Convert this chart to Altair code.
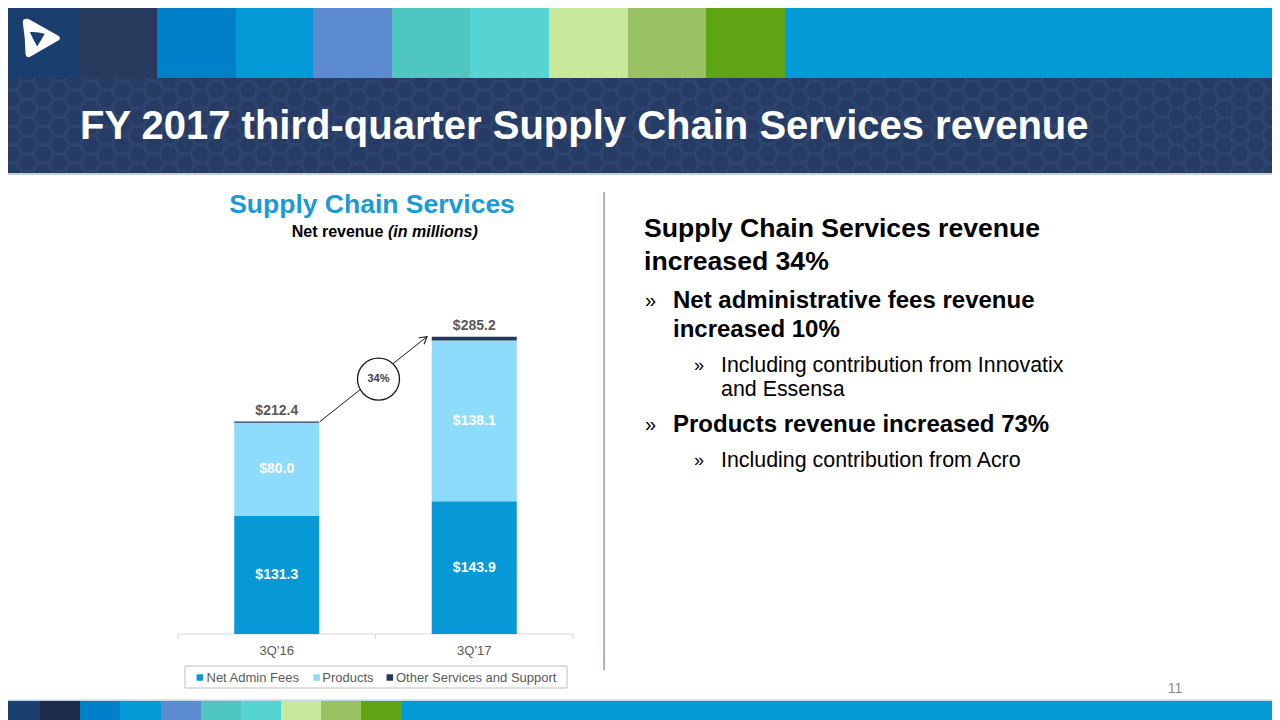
import altair as alt
import pandas as pd

# ---------------- data ----------------
quarters = ["3Q'16", "3Q'17"]
net_admin = [131.3, 143.9]
products = [80.0, 138.1]
other_services = [1.1, 3.2]
totals = [212.4, 285.2]
segments = ["Net Admin Fees", "Products", "Other Services and Support"]
segment_colors = ["#0699D6", "#8EDCFB", "#1F3864"]
growth_label = "34%"
axis_min, axis_max = 30, 300

# slide palette (decoration)
strip_colors = ["#1A3F6E", "#283A5E", "#0180CA", "#0699D8", "#5C8BD0", "#50C6C0",
                "#56D4D4", "#C8E89C", "#9AC264", "#5FA513", "#049AD6"]
bottom_colors = ["#1A3F6E", "#1E2B4A", "#0180CA", "#0699D8", "#5C8BD0", "#50C6C0",
                 "#56D4D4", "#C8E89C", "#9AC264", "#5FA513", "#049AD6"]
top_edges = [0, 79, 157, 236, 313, 392, 470, 549, 628, 706, 785, 1280]
bottom_edges = [0, 40, 80, 120, 161, 201, 241, 281, 321, 361, 402, 1280]

FONT = "Liberation Sans"
OX, OY = 8, 8          # page margin: slide pixel -> chart pixel
W, H = 1264, 712


def px(v):
    return v - OX


def py(v):
    return v - OY


XN = dict(scale=None, axis=None)


def rect_layer(items):
    df = pd.DataFrame([dict(x=px(a), x2=px(b), y=py(c), y2=py(d), c=col) for a, b, c, d, col in items])
    return alt.Chart(df).mark_rect().encode(
        x=alt.X("x:Q", **XN), x2="x2:Q", y=alt.Y("y:Q", **XN), y2="y2:Q",
        color=alt.Color("c:N", scale=None))


# ---------------- decoration ----------------
band = rect_layer([(0, 1280, 78, 173, "#273C64")])

# honeycomb texture in the title band (pure decoration)
HEX = "M -1 0 L -0.5 -0.866 L 0.5 -0.866 L 1 0 L 0.5 0.866 L -0.5 0.866 Z"
hex_pts = []
r = 10.5
col = 0
cx = -4.0
while cx < 1290:
    off = 0 if col % 2 == 0 else r * 0.866
    cy = 78 + off - 6
    while cy < 178:
        hex_pts.append(dict(x=px(cx), y=py(cy)))
        cy += 2 * r * 0.866
    cx += 1.5 * r
    col += 1
hexes = alt.Chart(pd.DataFrame(hex_pts)).mark_point(
    shape=HEX, size=(2 * r - 2) ** 2, filled=False, color="#3A5283", strokeWidth=1.2, opacity=0.55
).encode(x=alt.X("x:Q", **XN), y=alt.Y("y:Q", **XN))

rest = [(top_edges[i], top_edges[i + 1], 0, 78, c) for i, c in enumerate(strip_colors)]
rest += [(0, 1280, 173, 175, "#C9CFD8"), (0, 1280, 175, 190, "#FFFFFF"),
         (0, 1280, 699.5, 701, "#BFD8E8")]
rest += [(bottom_edges[i], bottom_edges[i + 1], 701, 720, c) for i, c in enumerate(bottom_colors)]
rest += [(603.3, 604.8, 192, 670, "#8C9BB2"),               # divider
         (178, 573.5, 633.5, 634.5, "#D9D9D9")]               # category axis line
rest += [(tx - 0.5, tx + 0.5, 634, 639, "#D9D9D9") for tx in [178, 375.5, 573]]
deco = rect_layer(rest)

# legend box
legend_box = alt.Chart(pd.DataFrame([dict(x=px(185), x2=px(567), y=py(666), y2=py(688))])).mark_rect(
    fill="white", stroke="#BFBFBF", strokeWidth=1
).encode(x=alt.X("x:Q", **XN), x2="x2:Q", y=alt.Y("y:Q", **XN), y2="y2:Q")

# logo
LOGO_OUT = ("M -0.78 -0.98 Q -0.97 -0.98 -0.93 -0.76 Q -0.80 0.05 -0.80 0.78 Q -0.76 1.0 -0.55 0.90 "
            "L 0.84 0.10 Q 1.02 -0.02 0.84 -0.14 L -0.58 -0.94 Q -0.68 -0.99 -0.78 -0.98 Z")
LOGO_IN = "M -0.58 -0.32 Q -0.2 -0.34 0.16 -0.24 Q -0.02 0.1 -0.22 0.40 Q -0.42 0.05 -0.58 -0.32 Z"
logo_df = pd.DataFrame([dict(x=px(41.5), y=py(38.5))])
logo_out = alt.Chart(logo_df).mark_point(shape=LOGO_OUT, size=1600, filled=True, color="white", opacity=1).encode(
    x=alt.X("x:Q", **XN), y=alt.Y("y:Q", **XN))
logo_in = alt.Chart(logo_df).mark_point(shape=LOGO_IN, size=1600, filled=True, color="#1A3F6E", opacity=1).encode(
    x=alt.X("x:Q", **XN), y=alt.Y("y:Q", **XN))


def text_layer(items, size, color, weight="normal", align="left", baseline="alphabetic", style="normal"):
    df = pd.DataFrame([dict(x=px(a), y=py(b), t=t) for a, b, t in items])
    return alt.Chart(df).mark_text(fontSize=size, color=color, fontWeight=weight, align=align,
                                   baseline=baseline, fontStyle=style, font=FONT).encode(
        x=alt.X("x:Q", **XN), y=alt.Y("y:Q", **XN), text="t:N")


texts = [
    text_layer([(80, 139, "FY 2017 third-quarter Supply Chain Services revenue")], 40, "white", "bold"),
    text_layer([(372, 213, "Supply Chain Services")], 26.5, "#1A9AD6", "bold", align="center"),
    text_layer([(291.7, 237, "Net revenue")], 16, "#000000", "bold"),
    text_layer([(388, 237, "(in millions)")], 16, "#000000", "bold", style="italic"),
    text_layer([(644, 237, "Supply Chain Services revenue"), (644, 270, "increased 34%"),
                ], 26.6, "#000000", "bold"),
    text_layer([(673, 308, "Net administrative fees revenue"), (673, 337, "increased 10%"),
                (673, 432, "Products revenue increased 73%")], 24, "#000000", "bold"),
    text_layer([(645, 307, "»"), (645, 431, "»")], 20, "#000000"),
    text_layer([(694, 371, "»"), (694, 466, "»")], 18, "#000000"),
    text_layer([(721, 372, "Including contribution from Innovatix"), (721, 396, "and Essensa"),
                (721, 467, "Including contribution from Acro")], 21.4, "#000000"),
    text_layer([(1175, 693, "11")], 14, "#8C8C8C", align="center"),
]

# manual legend
leg_x_sq = [199.8, 316.7, 389.8]
leg_x_tx = [206.5, 322.3, 396]
leg_df = pd.DataFrame(dict(segment=segments, xs=[px(v) for v in leg_x_sq], xt=[px(v) for v in leg_x_tx],
                           y=[py(677.5)] * 3))
leg_sq = alt.Chart(leg_df).mark_point(shape="square", size=42, filled=True, opacity=1).encode(
    x=alt.X("xs:Q", **XN), y=alt.Y("y:Q", **XN),
    color=alt.Color("segment:N", scale=alt.Scale(domain=segments, range=segment_colors), legend=None))
leg_tx = alt.Chart(leg_df).mark_text(fontSize=13, color="#595959", align="left", baseline="middle", font=FONT).encode(
    x=alt.X("xt:Q", **XN), y=alt.Y("y:Q", **XN), text="segment:N")

# ---------------- bar chart ----------------
rows = []
for qi, q in enumerate(quarters):
    for si, vals in enumerate([net_admin, products, other_services]):
        rows.append(dict(quarter=q, segment=segments[si], value=vals[qi], order=si))
bar_df = pd.DataFrame(rows)

x_scale = alt.Scale(domain=quarters, range=[px(178), px(573)], paddingInner=0.5696, paddingOuter=0.2848)
y_scale = alt.Scale(domain=[axis_min, axis_max], range=[py(634), py(634) - 1.165 * (axis_max - axis_min)],
                    clamp=True)
color_scale = alt.Scale(domain=segments, range=segment_colors)
x_enc = alt.X("quarter:N", scale=x_scale, axis=None)

bars = alt.Chart(bar_df).mark_bar().encode(
    x=x_enc,
    y=alt.Y("value:Q", stack="zero", scale=y_scale, axis=None),
    color=alt.Color("segment:N", scale=color_scale, legend=None),
    order=alt.Order("order:Q", sort="ascending"),
)

cat_df = pd.DataFrame(dict(quarter=quarters))
cat_labels = alt.Chart(cat_df).mark_text(fontSize=13, color="#595959", baseline="alphabetic", font=FONT).encode(
    x=x_enc, y=alt.value(py(654.5)), text="quarter:N")

# inner labels at middle of visible segment
lab_rows = []
for qi, q in enumerate(quarters):
    lo = 0.0
    for vals in [net_admin, products]:
        hi = lo + vals[qi]
        mid = (max(lo, axis_min) + hi) / 2
        lab_rows.append(dict(quarter=q, mid=mid, label=f"${vals[qi]:.1f}"))
        lo = hi
lab_df = pd.DataFrame(lab_rows)
inner = alt.Chart(lab_df).mark_text(fontSize=14, fontWeight="bold", color="white", baseline="middle", font=FONT).encode(
    x=x_enc, y=alt.Y("mid:Q", scale=y_scale, axis=None), text="label:N")

tot_df = pd.DataFrame(dict(quarter=quarters, total=totals, label=[f"${v:.1f}" for v in totals]))
tot = alt.Chart(tot_df).mark_text(fontSize=14, fontWeight="bold", color="#595959", baseline="alphabetic", dy=-7,
                                  font=FONT).encode(
    x=x_enc, y=alt.Y("total:Q", scale=y_scale, axis=None), text="label:N")

arrow_df = pd.DataFrame([dict(y=totals[0], y2=totals[1])])
arrow = alt.Chart(arrow_df).mark_rule(color="#1a1a1a", strokeWidth=1).encode(
    x=alt.value(px(320)), x2=alt.value(px(427)),
    y=alt.Y("y:Q", scale=y_scale, axis=None), y2="y2:Q")
head = alt.Chart(pd.DataFrame([dict(y=totals[1])])).mark_point(
    shape="M -0.6 1 L 0 0 L 0.6 1", size=196, filled=False, color="#1a1a1a", strokeWidth=1.1, angle=52,
    opacity=1).encode(x=alt.value(px(427)), y=alt.Y("y:Q", scale=y_scale, axis=None))

mid_df = pd.DataFrame([dict(y=sum(totals) / 2, label=growth_label)])
circle = alt.Chart(mid_df).mark_point(shape="circle", size=42 * 42, filled=True, fill="white", stroke="#1a1a1a",
                                      strokeWidth=1.3, opacity=1, fillOpacity=1, strokeOpacity=1).encode(
    x=alt.value(px(378.5)), y=alt.Y("y:Q", scale=y_scale, axis=None))
pct = alt.Chart(mid_df).mark_text(fontSize=11, fontWeight="bold", color="#404040", baseline="middle",
                                  font=FONT).encode(
    x=alt.value(px(378.5)), y=alt.Y("y:Q", scale=y_scale, axis=None), text="label:N")

chart = alt.layer(
    band, hexes, deco, legend_box, logo_out, logo_in, *texts, leg_sq, leg_tx,
    bars, cat_labels, inner, tot, arrow, circle, pct, head,
).properties(
    width=W, height=H, padding=0, autosize=alt.AutoSizeParams(type="none"), background="white"
).configure_view(strokeWidth=0)

chart.save("out.html", embed_options={"renderer": "svg", "actions": False})
